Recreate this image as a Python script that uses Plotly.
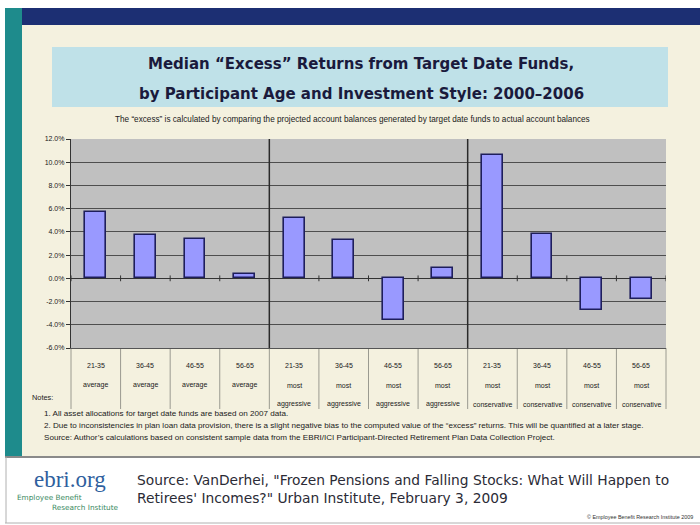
import plotly.graph_objects as go

# ---- data -------------------------------------------------------------
age_labels = ["21-35", "36-45", "46-55", "56-65",
              "21-35", "36-45", "46-55", "56-65",
              "21-35", "36-45", "46-55", "56-65"]
style_top = ["average", "average", "average", "average",
             "most", "most", "most", "most",
             "most", "most", "most", "most"]
style_bottom = ["", "", "", "",
                "aggressive", "aggressive", "aggressive", "aggressive",
                "conservative", "conservative", "conservative", "conservative"]
excess_pct = [5.7, 3.7, 3.4, 0.4, 5.2, 3.3, -3.6, 0.9, 10.6, 3.8, -2.7, -1.8]
y_ticks = [12, 10, 8, 6, 4, 2, 0, -2, -4, -6]
y_tick_text = ["12.0%", "10.0%", "8.0%", "6.0%", "4.0%", "2.0%",
               "0.0%", "-2.0%", "-4.0%", "-6.0%"]
group_size = 4

W, H = 700, 525


def px(x):
    return x / W


def py(y):
    return 1 - y / H


PLOT_L, PLOT_R, PLOT_T, PLOT_B = 71, 666, 139, 348

xs = list(range(len(excess_pct)))

fig = go.Figure()
fig.add_trace(go.Bar(
    x=xs, y=excess_pct, width=0.42,
    marker=dict(color="#9999FF", line=dict(color="#1E1E5C", width=1.6)),
    hoverinfo="skip",
))

shapes = []


def rect(x0, y0, x1, y1, color, layer="below", line=None):
    shapes.append(dict(type="rect", xref="paper", yref="paper",
                       x0=px(x0), x1=px(x1), y0=py(y1), y1=py(y0),
                       fillcolor=color, layer=layer,
                       line=line or dict(width=0)))


def hline(x0, x1, y, color, width):
    shapes.append(dict(type="line", xref="paper", yref="paper",
                       x0=px(x0), x1=px(x1), y0=py(y), y1=py(y),
                       line=dict(color=color, width=width), layer="below"))


def vline(x, y0, y1, color, width):
    shapes.append(dict(type="line", xref="paper", yref="paper",
                       x0=px(x), x1=px(x), y0=py(y0), y1=py(y1),
                       line=dict(color=color, width=width), layer="below"))


# slide frame
rect(22, 25, 700, 456, "#F4F1DF")          # cream panel
rect(5, 8, 22, 456, "#1E8B8C")             # teal side strip
rect(22, 8, 700, 25, "#1C2F73")            # navy top strip
rect(52, 47, 668, 107, "#BFE1E8")          # title box
rect(PLOT_L, PLOT_T, PLOT_R, PLOT_B, "#C0C0C0")  # chart area
# footer frame
hline(5, 700, 457, "#8A8A8A", 2)
vline(6, 457, 523, "#B0B0B0", 1)
hline(5, 700, 523, "#B0B0B0", 1)

# category table dividers under the chart
n = len(excess_pct)
cat_w = (PLOT_R - PLOT_L) / n
for i in range(n + 1):
    vline(PLOT_L + i * cat_w, PLOT_B, 409, "#9A9A90", 1)

# group separators inside the chart
for g in range(1, n // group_size):
    b = g * group_size - 0.5
    shapes.append(dict(type="line", xref="x", yref="paper",
                       x0=b, x1=b, y0=py(PLOT_B), y1=py(PLOT_T),
                       line=dict(color="#2A2A2A", width=1.5), layer="above"))

# small tick marks on the zero line at category boundaries
for i in range(n + 1):
    b = i - 0.5
    shapes.append(dict(type="line", xref="x", yref="y",
                       x0=b, x1=b, y0=-0.25, y1=0.25,
                       line=dict(color="#333333", width=1), layer="above"))

ann = []
TITLE_FONT = "DejaVu Sans"
SMALL_FONT = "Liberation Sans Narrow, Liberation Sans, Arial"


def text(x, y, s, size, color="#111111", family=SMALL_FONT, anchor="center"):
    ann.append(dict(xref="paper", yref="paper", x=px(x), y=py(y), text=s,
                    showarrow=False, xanchor=anchor, yanchor="middle",
                    font=dict(size=size, color=color, family=family)))


text(361, 64, "<b>Median \u201cExcess\u201d Returns from Target Date Funds,</b>",
     15, "#1A1A3C", TITLE_FONT)
text(361, 94, "<b>by Participant Age and Investment Style: 2000\u20132006</b>",
     15, "#1A1A3C", TITLE_FONT)
text(352, 119, "The \u201cexcess\u201d is calculated by comparing the projected account "
     "balances generated by target date funds to actual account balances",
     8.2, "#1A1A1A")

for i in range(n):
    cx = PLOT_L + (i + 0.5) * cat_w
    text(cx, 365, age_labels[i], 7, "#1A1A1A")
    text(cx, 385, style_top[i], 7, "#1A1A1A")
    if style_bottom[i]:
        text(cx, 404, style_bottom[i], 7, "#1A1A1A")

text(30, 397, "Notes:", 7.4, "#1A1A1A", anchor="left")
text(42, 413, "1. All asset allocations for target date funds are based on 2007 data.",
     8.1, "#1A1A1A", anchor="left")
text(42, 425, "2. Due to inconsistencies in plan loan data provision, there is a slight "
     "negative bias to the computed value of the \u201cexcess\u201d returns. "
     "This will be quantified at a later stage.", 8.1, "#1A1A1A", anchor="left")
text(42, 437, "Source: Author\u2019s calculations based on consistent sample data from the "
     "EBRI/ICI Participant-Directed Retirement Plan Data Collection Project.",
     8.1, "#1A1A1A", anchor="left")

# footer
text(70, 479, "ebri.org", 23, "#2F5F9E", "Liberation Serif, DejaVu Serif, serif")
text(15, 497, "Employee Benefit", 7.3, "#3A8A62", "DejaVu Sans", anchor="left")
text(50, 507, "Research Institute", 7.3, "#3A8A62", "DejaVu Sans", anchor="left")
text(135, 480, "Source: VanDerhei, \"Frozen Pensions and Falling Stocks: What Will Happen to",
     13.8, "#2B2B36", "DejaVu Sans", anchor="left")
text(135, 498, "Retirees' Incomes?\" Urban Institute, February 3, 2009",
     13.8, "#2B2B36", "DejaVu Sans", anchor="left")
text(695, 517, "\u00a9 Employee Benefit Research Institute 2009", 5.4, "#333333",
     anchor="right")

fig.update_layout(
    width=W, height=H,
    margin=dict(l=0, r=0, t=0, b=0),
    paper_bgcolor="#FFFFFF",
    plot_bgcolor="rgba(0,0,0,0)",
    showlegend=False,
    bargap=0,
    shapes=shapes,
    annotations=ann,
    xaxis=dict(domain=[px(PLOT_L), px(PLOT_R)], range=[-0.5, n - 0.5],
               showticklabels=False, showgrid=False, zeroline=False,
               showline=True, linecolor="#555555", linewidth=1,
               ticks="", fixedrange=True),
    yaxis=dict(domain=[py(PLOT_B), py(PLOT_T)], range=[-6, 12],
               tickvals=y_ticks, ticktext=y_tick_text,
               showgrid=True, gridcolor="#4E4E4E", gridwidth=1.2,
               zeroline=True, zerolinecolor="#333333", zerolinewidth=1.2,
               showline=True, linecolor="#333333", linewidth=1.2,
               ticks="outside", ticklen=4, tickcolor="#333333",
               tickfont=dict(size=7, family=SMALL_FONT, color="#1A1A1A"),
               automargin=False, fixedrange=True),
)

fig.write_html("out.html")
